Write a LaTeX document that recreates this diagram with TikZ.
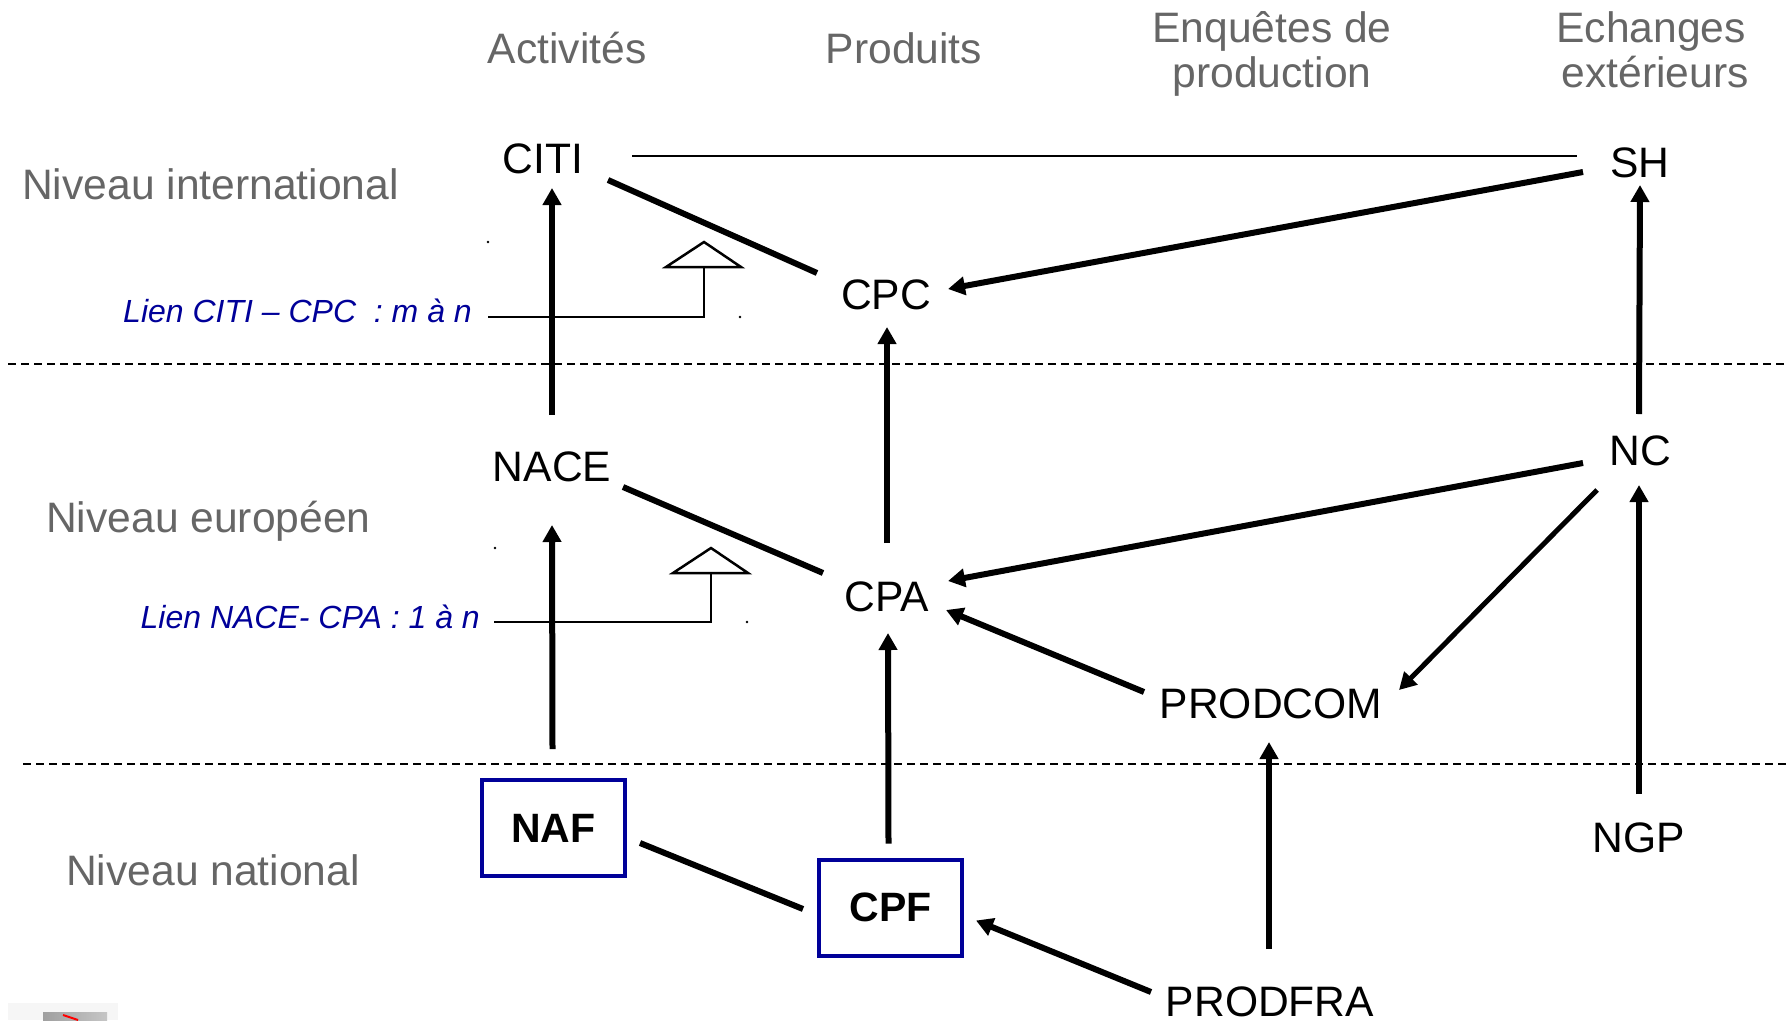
\documentclass[tikz,border=0pt]{standalone}
\usepackage{fontspec}
\setmainfont{Liberation Sans}
\usetikzlibrary{arrows.meta,calc}
\definecolor{hdgray}{RGB}{102,102,102}
\definecolor{navy}{RGB}{0,0,153}
\begin{document}
\begin{tikzpicture}[x=1pt,y=-1pt,
  lbl/.style={font=\fontsize{42.6}{46}\selectfont, inner sep=0pt, anchor=base},
  hdr/.style={lbl, text=hdgray},
  natbox/.style={draw=navy, line width=4pt, minimum width=143pt, minimum height=96pt,
                 inner sep=0pt, font=\fontsize{41}{45}\selectfont\bfseries},
  link/.style={font=\fontsize{32}{36}\selectfont\itshape, text=navy, inner sep=0pt, anchor=base east},
  arr/.style={line width=6pt, -{Triangle[length=17pt,width=18pt]}},
  ln/.style={line width=6pt},
  thinln/.style={line width=2.5pt},
  callout/.style={line width=2.5pt, line join=miter},
  sep/.style={line width=2pt, dash pattern=on 8pt off 5pt}
]
\useasboundingbox (0,0) rectangle (1787,1020);

% faint logo bottom left
\fill[gray!7] (8,1003) rectangle (118,1020);
\shade[left color=gray!75, right color=gray!45] (43,1012) rectangle (107,1020);
\draw[red, line width=2pt] (63,1015) -- (78,1020);

% column headers
\node[hdr] (hact) at (567,63) {Activités};
\node[hdr] (hprod) at (904,63) {Produits};
\node[hdr] (henqa) at (1272,42) {Enquêtes de};
\node[hdr] (henqb) at (1272,87) {production};
\node[hdr] (hecha) at (1651,42) {Echanges};
\node[hdr] (hechb) at (1655,87) {extérieurs};

% row labels
\node[hdr, anchor=base west] (rint) at (22,199) {Niveau international};
\node[hdr, anchor=base west] (reur) at (46,532) {Niveau européen};
\node[hdr, anchor=base west] (rnat) at (66,885) {Niveau national};

% separators
\coordinate (s1a) at (8,364);  \coordinate (s1b) at (1787,364);
\coordinate (s2a) at (23,764); \coordinate (s2b) at (1787,764);
\draw[sep] (s1a) -- (s1b);
\draw[sep] (s2a) -- (s2b);

% classification nodes
\node[lbl] (citi) at (543,173) {CITI};
\node[lbl] (sh) at (1640,177) {SH};
\node[lbl] (cpc) at (886,309) {CPC};
\node[lbl] (nace) at (552,481) {NACE};
\node[lbl] (nc) at (1640,465) {NC};
\node[lbl] (cpa) at (887,611) {CPA};
\node[lbl] (prodcom) at (1271,718) {PRODCOM};
\node[lbl] (ngp) at (1639,852) {NGP};
\node[lbl] (prodfra) at (1270,1016) {PRODFRA};
\node[natbox] (naf) at (553.5,828) {NAF};
\node[natbox] (cpf) at (890.5,907.5) {CPF};

% connectors
\draw[thinln] ($(citi.base)+(89,-17)$) -- ($(sh.base)+(-63,-21)$);
\draw[ln] ($(citi.base)+(65,7)$) -- ($(cpc.base)+(-69,-36)$);
\draw[arr] ($(sh.base)+(-57,-5)$) -- ($(cpc.base)+(62,-20)$);
\draw[arr] ($(nace.base)+(0,-66)$) -- ($(citi.base)+(9,15)$);
\draw[arr] ($(cpa.base)+(0,-68)$) -- ($(cpc.base)+(1,18)$);
\draw[arr] ($(nc.base)+(-1,-51)$) -- ($(sh.base)+(0,8)$);
\draw[ln] ($(nace.base)+(71,6)$) -- ($(cpa.base)+(-64,-38)$);
\draw[arr] ($(nc.base)+(-57,-2)$) -- ($(cpa.base)+(61,-30)$);
\draw[arr, line width=5pt] ($(nc.base)+(-43,25)$) -- ($(prodcom.base)+(128,-28)$);
\draw[arr] ($(prodcom.base)+(-127,-26)$) -- ($(cpa.base)+(59,-1)$);
\draw[arr] ($(naf.north)+(-1,-29)$) -- ($(nace.base)+(0,44)$);
\draw[arr] ($(cpf.north)+(-2,-14)$) -- ($(cpa.base)+(1,22)$);
\draw[arr] ($(ngp.base)+(0,-58)$) -- ($(nc.base)+(-1,20)$);
\draw[arr] ($(prodfra.base)+(-1,-67)$) -- ($(prodcom.base)+(-2,24)$);
\draw[ln] ($(naf.east)+(13,15)$) -- ($(cpf.west)+(-14,1.5)$);
\draw[arr] ($(prodfra.base)+(-119,-24)$) -- ($(cpf.east)+(12,13)$);

% link callouts
\node[link] (l1) at (472,322) {Lien CITI – CPC\ \ : m à n};
\coordinate (t1) at (704,267);
\draw[callout, fill=white] (666,267) -- (704,242) -- (741,267) -- cycle;
\draw[callout] ($(l1.base east)+(16,-5)$) -| (t1);

\node[link] (l2) at (480,628) {Lien NACE- CPA : 1 à n};
\coordinate (t2) at (711,573);
\draw[callout, fill=white] (673,573) -- (711,548) -- (748,573) -- cycle;
\draw[callout] ($(l2.base east)+(14,-6)$) -| (t2);

% small specks
\fill (488,242) circle (1.3pt);
\fill (740,317) circle (1.3pt);
\fill (495,548) circle (1.3pt);
\fill (747,622) circle (1.3pt);
\end{tikzpicture}
\end{document}
